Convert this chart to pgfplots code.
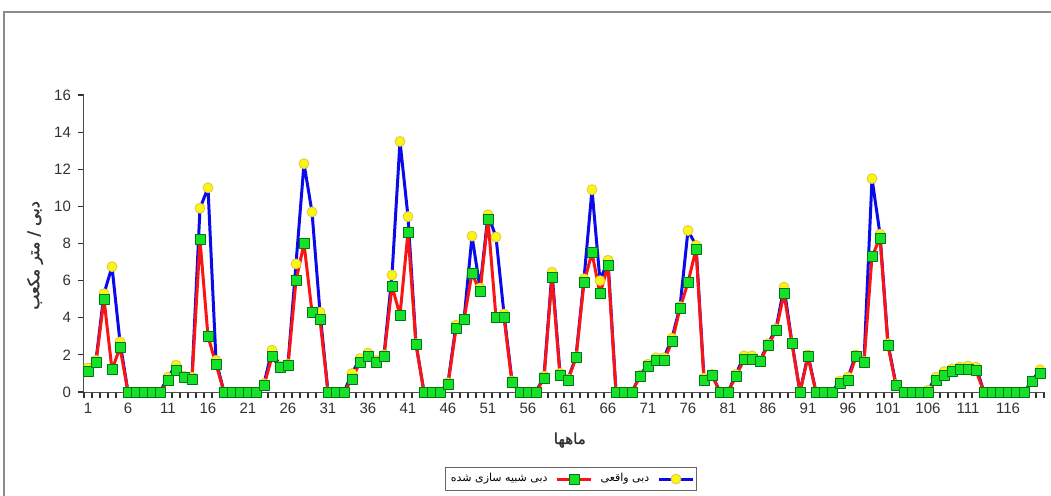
\documentclass[border=0pt]{standalone}
\usepackage{pgfplots}
\pgfplotsset{compat=1.18}
\usepackage{pgfplotstable}
\usepackage{fontspec}
\setmainfont{Liberation Sans}
\newfontfamily\fa[Script=Arabic]{DejaVu Sans}
\newfontfamily\fab[Script=Arabic,FakeBold=1.5]{DejaVu Sans}
\TeXXeTstate=1

\definecolor{obsline}{RGB}{10,10,235}
\definecolor{simline}{RGB}{250,20,20}
\definecolor{yel}{RGB}{250,245,20}
\definecolor{yeldraw}{RGB}{225,200,60}
\definecolor{grn}{RGB}{20,225,40}
\definecolor{grndraw}{RGB}{0,120,20}
\definecolor{ticktext}{RGB}{50,50,50}

% month, observed (blue), simulated (red)
\pgfplotstableread{
m obs sim
1 1.3 1.1
2 1.7 1.6
3 5.3 5.0
4 6.75 1.2
5 2.7 2.4
6 0 0
7 0 0
8 0 0
9 0 0
10 0 0
11 0.8 0.6
12 1.45 1.15
13 0.85 0.8
14 0.8 0.7
15 9.9 8.2
16 11.0 3.0
17 1.7 1.5
18 0 0
19 0 0
20 0 0
21 0 0
22 0 0
23 0.45 0.35
24 2.25 1.9
25 1.4 1.3
26 1.5 1.45
27 6.9 6.0
28 12.3 8.0
29 9.7 4.3
30 4.3 3.9
31 0 0
32 0 0
33 0 0
34 1.0 0.7
35 1.8 1.6
36 2.1 1.9
37 1.7 1.6
38 2.0 1.9
39 6.3 5.7
40 13.5 4.15
41 9.45 8.6
42 2.6 2.55
43 0 0
44 0 0
45 0 0
46 0.5 0.4
47 3.6 3.4
48 3.9 3.9
49 8.4 6.4
50 5.6 5.4
51 9.55 9.3
52 8.35 4.0
53 4.2 4.0
54 0.6 0.5
55 0 0
56 0 0
57 0 0
58 0.85 0.75
59 6.45 6.2
60 1.0 0.9
61 0.7 0.65
62 1.9 1.85
63 6.1 5.9
64 10.9 7.5
65 6.0 5.3
66 7.1 6.8
67 0 0
68 0 0
69 0 0
70 0.9 0.85
71 1.5 1.4
72 1.85 1.7
73 1.85 1.7
74 2.9 2.7
75 4.6 4.5
76 8.7 5.9
77 7.9 7.7
78 0.75 0.65
79 0.95 0.9
80 0 0
81 0 0
82 0.95 0.85
83 1.95 1.75
84 1.95 1.75
85 1.7 1.65
86 2.6 2.5
87 3.4 3.3
88 5.65 5.3
89 2.65 2.6
90 0 0
91 2.0 1.9
92 0 0
93 0 0
94 0 0
95 0.6 0.45
96 0.8 0.65
97 2.0 1.9
98 1.65 1.6
99 11.5 7.3
100 8.5 8.3
101 2.6 2.5
102 0.4 0.35
103 0 0
104 0 0
105 0 0
106 0.1 0
107 0.8 0.6
108 1.1 0.9
109 1.25 1.1
110 1.35 1.2
111 1.4 1.2
112 1.35 1.15
113 0 0
114 0 0
115 0 0
116 0 0
117 0 0
118 0 0
119 0.6 0.55
120 1.2 1.0
}\flow

\begin{document}
\begin{tikzpicture}
\begin{axis}[
  scale only axis,
  width=480pt, height=148.5pt,
  xmin=0.5, xmax=120.5, ymin=0, ymax=16,
  axis x line=bottom, axis y line=left,
  axis line style={-, draw=black!70, line width=0.5pt},
  xtick align=outside, ytick align=outside,
  major tick length=0pt,
  minor tick length=3pt,
  every minor tick/.style={draw=black!80, line width=0.6pt},
  xtick={1,6,...,116},
  minor xtick={0.5,1.5,...,120.5},
  ytick={0,2,...,16},
  minor ytick={0,2,...,16},
  /pgf/number format/assume math mode=true,
  tick label style={font=\fontsize{7.5}{9}\selectfont, text=ticktext},
  xticklabel style={yshift=-2pt},
  yticklabel style={xshift=-3pt},
  xlabel={\fab\beginR ماهها\endR},
  xlabel style={at={(axis description cs:0.506,-0.162)}, anchor=center, font=\fontsize{7.5}{8}\selectfont, text=ticktext},
  ylabel={\fab\beginR دبی / متر مکعب\endR},
  ylabel style={at={(axis description cs:-0.051,0.46)}, anchor=center, font=\fontsize{8}{9}\selectfont, text=ticktext},
  clip=false,
  reverse legend,
  legend columns=2,
  legend plot pos=right,
  legend style={at={(axis description cs:0.507,-0.293)}, anchor=center,
    draw=black!60, line width=0.4pt, font=\fontsize{5.5}{6.5}\selectfont,
    inner sep=1pt, column sep=2pt},
]
\addplot[obsline, line width=1.5pt, line join=round, mark=*, mark size=2.5pt,
  mark options={fill=yel, draw=yeldraw, line width=0.4pt}]
  table[x=m, y=obs] {\flow};
\addlegendentry{\fa\beginR دبی واقعی\endR}
\addplot[simline, line width=1.5pt, line join=round, mark=square*, mark size=2.5pt,
  mark options={fill=grn, draw=grndraw, line width=0.4pt}]
  table[x=m, y=sim] {\flow};
\addlegendentry{\fa\beginR دبی شبیه سازی شده\endR}
\end{axis}
\draw[black!45, line width=0.8pt] (-40pt,-60pt) -- (-40pt,190pt) -- (490pt,190pt);
\pgfresetboundingbox
\path[use as bounding box] (-42pt,-51.5pt) rectangle (483.5pt,196pt);
\end{tikzpicture}
\end{document}
